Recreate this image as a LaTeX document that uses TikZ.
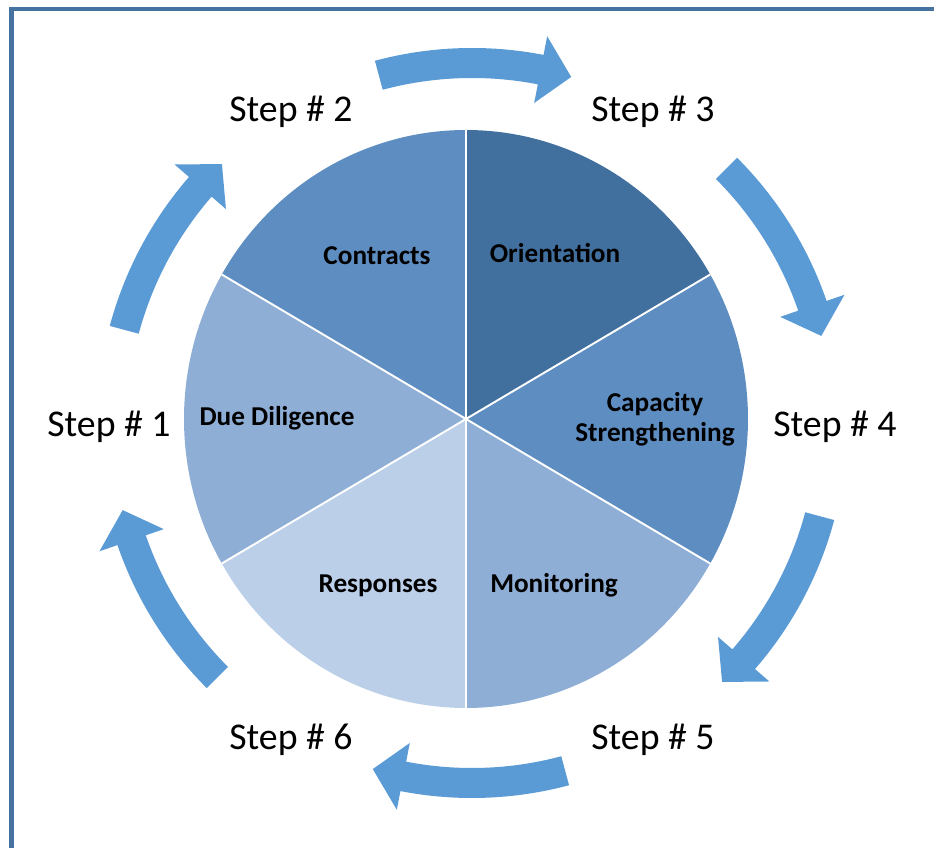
\documentclass[tikz,border=0pt]{standalone}
\usepackage{fontspec}
\setmainfont{Carlito}
\definecolor{frameblue}{HTML}{4672A0}
\definecolor{pieDark}{HTML}{41709F}
\definecolor{pieMid}{HTML}{5E8DC1}
\definecolor{pieLight}{HTML}{8EAED6}
\definecolor{piePale}{HTML}{BBCFE9}
\definecolor{arrowblue}{HTML}{5B9BD5}
\tikzset{
  steplabel/.style={font=\fontsize{21.5}{26}\selectfont, anchor=base, inner sep=0pt},
  seglabel/.style={font=\bfseries\fontsize{15.5}{17.6}\selectfont, anchor=base, align=center, inner sep=0pt},
  divider/.style={white, line width=1.1pt},
  cyclearrow/.style={fill=arrowblue, draw=none}
}
\begin{document}
\begin{tikzpicture}[x=0.02cm,y=0.02cm]
\useasboundingbox (-466,-429) rectangle (468,419);
\clip (-466,-429) rectangle (468,419);
% outer frame (runs past the right and bottom edges)
\draw[frameblue, line width=0.09cm] (-454.3,410) rectangle (540,-540);

% pie of six segments
\coordinate (O) at (0,0);
\fill[pieMid]   (O) -- (90:282 and 289)  arc[start angle=90,  end angle=150, x radius=282, y radius=289] -- cycle;
\fill[pieDark]  (O) -- (30:282 and 289)  arc[start angle=30,  end angle=90,  x radius=282, y radius=289] -- cycle;
\fill[pieMid]   (O) -- (-30:282 and 289) arc[start angle=-30, end angle=30,  x radius=282, y radius=289] -- cycle;
\fill[pieLight] (O) -- (-90:282 and 289) arc[start angle=-90, end angle=-30, x radius=282, y radius=289] -- cycle;
\fill[piePale]  (O) -- (210:282 and 289) arc[start angle=210, end angle=270, x radius=282, y radius=289] -- cycle;
\fill[pieLight] (O) -- (150:282 and 289) arc[start angle=150, end angle=210, x radius=282, y radius=289] -- cycle;
\foreach \a in {30,90,150,210,270,330}
  \draw[divider] (O) -- (\a:282 and 289);

% curved arrows running clockwise between the steps
\begin{scope}[shift={(6,-4)}]
\foreach \c in {90,30,-30,-90,-150,150} {
  \path[cyclearrow] (\c+15:375)
    arc[start angle=\c+15, end angle=\c-11, radius=375]
    -- (\c-11:394) -- (\c-16:360) -- (\c-11:326) -- (\c-11:345)
    arc[start angle=\c-11, end angle=\c+15, radius=345] -- cycle;
}
\end{scope}

% segment labels
\node[seglabel] (contracts)   at (-89,154)  {Contracts};
\node[seglabel] (orientation) at (89,156)   {Orientation};
\node[seglabel] (capacity)    at (189,-23)  {Capacity\\Strengthening};
\node[seglabel] (diligence)   at (-189,-7)  {Due Diligence};
\node[seglabel] (responses)   at (-88,-174) {Responses};
\node[seglabel] (monitoring)  at (88,-174)  {Monitoring};

% step labels
\node[steplabel] (s2) at (-175,297)  {Step \# 2};
\node[steplabel] (s3) at (187,297)   {Step \# 3};
\node[steplabel] (s1) at (-357,-18)  {Step \# 1};
\node[steplabel] (s4) at (369,-18)   {Step \# 4};
\node[steplabel] (s6) at (-175,-331) {Step \# 6};
\node[steplabel] (s5) at (187,-331)  {Step \# 5};
\end{tikzpicture}
\end{document}
